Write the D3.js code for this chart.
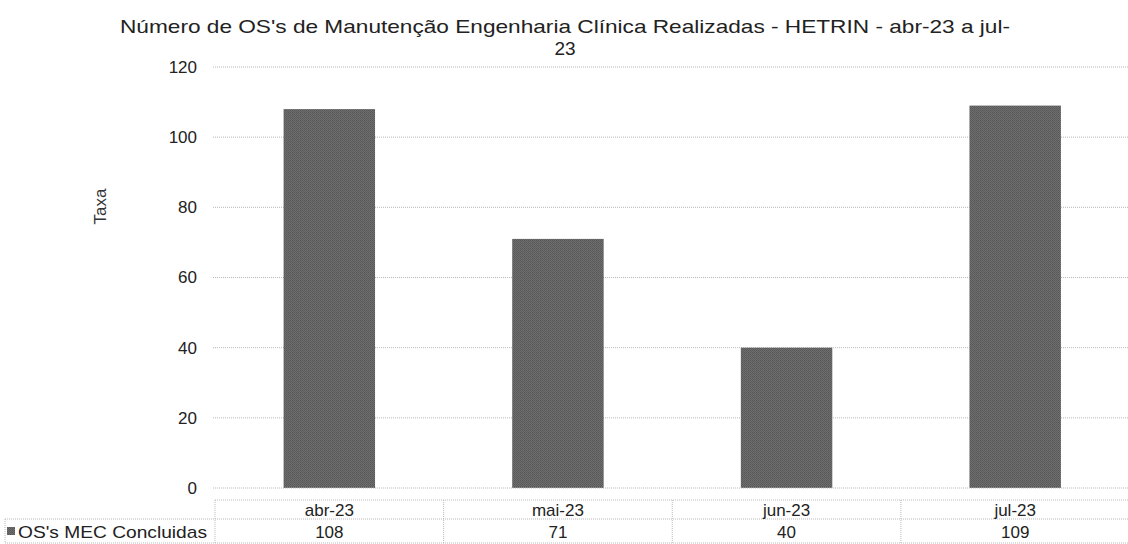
<!DOCTYPE html>
<html>
<head>
<meta charset="utf-8">
<script src="https://cdn.jsdelivr.net/npm/d3@7"></script>
<style>
  html, body { margin: 0; padding: 0; background: #fff; }
  svg { display: block; font-family: "Liberation Sans", Arial, sans-serif; }
</style>
</head>
<body>
<svg id="chart" width="1128" height="544"></svg>
<script>
// Monthly completed clinical-engineering work orders
const categories = ["abr-23", "mai-23", "jun-23", "jul-23"];
const seriesName = "OS's MEC Concluidas";
const values = [108, 71, 40, 109];
const yTicks = [0, 20, 40, 60, 80, 100, 120];
const titleLines = ["Número de OS's de Manutenção Engenharia Clínica Realizadas - HETRIN - abr-23 a jul-", "23"];
const yAxisTitle = "Taxa";

const svg = d3.select("#chart");
const W = 1128, H = 544;
const plot = { left: 215, right: 1129.5, top: 67, bottom: 488 };

const x = d3.scaleBand()
  .domain(categories)
  .range([plot.left, plot.right])
  .paddingInner(0.6)
  .paddingOuter(0.3);

const y = d3.scaleLinear()
  .domain([0, 120])
  .range([plot.bottom, plot.top]);

// halftone-like fill for the bars
const defs = svg.append("defs");
const pat = defs.append("pattern")
  .attr("id", "barFill")
  .attr("width", 2).attr("height", 2)
  .attr("patternUnits", "userSpaceOnUse");
pat.append("rect").attr("width", 2).attr("height", 2).attr("fill", "#6e6e6e");
pat.append("rect").attr("width", 1).attr("height", 1).attr("fill", "#575757");
pat.append("rect").attr("x", 1).attr("y", 1).attr("width", 1).attr("height", 1).attr("fill", "#5d5d5d");

const gridColor = "#b9b9b9";
const textColor = "#222";

// title
const title = svg.append("text")
  .attr("text-anchor", "middle")
  .attr("font-size", 19)
  .attr("fill", textColor);
title.append("tspan").attr("x", 565).attr("y", 33)
  .attr("textLength", 890).attr("lengthAdjust", "spacingAndGlyphs")
  .text(titleLines[0]);
title.append("tspan").attr("x", 565).attr("y", 55).text(titleLines[1]);

// horizontal gridlines
svg.append("g")
  .selectAll("line")
  .data(yTicks.filter(d => d > 0))
  .join("line")
  .attr("x1", plot.left - 2).attr("x2", W)
  .attr("y1", d => y(d)).attr("y2", d => y(d))
  .attr("stroke", gridColor)
  .attr("stroke-width", 1)
  .attr("stroke-dasharray", "1,1");

// y axis labels
const yAxis = d3.axisLeft(y).tickValues(yTicks).tickSize(0).tickPadding(0);
const gy = svg.append("g")
  .attr("transform", `translate(197,0)`)
  .call(yAxis);
gy.select(".domain").remove();
gy.selectAll("text")
  .attr("font-size", 17)
  .attr("fill", textColor)
  .attr("font-family", "\"Liberation Sans\", Arial, sans-serif");

// y axis title
svg.append("text")
  .attr("transform", `translate(106,${(plot.top + plot.bottom) / 2 - 71}) rotate(-90)`)
  .attr("text-anchor", "middle")
  .attr("font-size", 17)
  .attr("fill", "#333")
  .text(yAxisTitle);

// bars
svg.append("g")
  .selectAll("rect")
  .data(values)
  .join("rect")
  .attr("x", (d, i) => x(categories[i]))
  .attr("width", x.bandwidth())
  .attr("y", d => y(d))
  .attr("height", d => y(0) - y(d))
  .attr("fill", "url(#barFill)");

// zero baseline
svg.append("line")
  .attr("x1", plot.left - 2).attr("x2", W)
  .attr("y1", y(0)).attr("y2", y(0))
  .attr("stroke", gridColor)
  .attr("stroke-dasharray", "1,1");

// data table below the axis
const tTop = 500, tMid = 519, tBot = 543;
const step = x.step();
const colEdges = categories.map(c => x(c) - x.paddingInner() * step / 2);
colEdges.push(colEdges[colEdges.length - 1] + step);
const table = svg.append("g")
  .attr("stroke", gridColor)
  .attr("stroke-dasharray", "1,1")
  .attr("fill", "none");
table.append("line").attr("x1", colEdges[0]).attr("x2", W).attr("y1", tTop).attr("y2", tTop);
table.append("line").attr("x1", 5).attr("x2", W).attr("y1", tMid).attr("y2", tMid);
table.append("line").attr("x1", 5).attr("x2", W).attr("y1", tBot).attr("y2", tBot);
table.append("line").attr("x1", 5).attr("x2", 5).attr("y1", tMid).attr("y2", tBot);
table.selectAll(".vline")
  .data(colEdges.slice(0, -1))
  .join("line")
  .attr("x1", d => d).attr("x2", d => d)
  .attr("y1", tTop).attr("y2", tBot);

// category header row
svg.append("g")
  .selectAll("text")
  .data(categories)
  .join("text")
  .attr("x", d => x(d) + x.bandwidth() / 2)
  .attr("y", 516)
  .attr("text-anchor", "middle")
  .attr("font-size", 17)
  .attr("fill", textColor)
  .text(d => d);

// value row
svg.append("g")
  .selectAll("text")
  .data(values)
  .join("text")
  .attr("x", (d, i) => x(categories[i]) + x.bandwidth() / 2)
  .attr("y", 538)
  .attr("text-anchor", "middle")
  .attr("font-size", 17)
  .attr("fill", textColor)
  .text(d => d);

// series key in the row header
svg.append("rect")
  .attr("x", 7).attr("y", 527).attr("width", 8).attr("height", 8)
  .attr("fill", "url(#barFill)");
svg.append("text")
  .attr("x", 18).attr("y", 538)
  .attr("font-size", 17)
  .attr("textLength", 189).attr("lengthAdjust", "spacingAndGlyphs")
  .attr("fill", textColor)
  .text(seriesName);
</script>
</body>
</html>
